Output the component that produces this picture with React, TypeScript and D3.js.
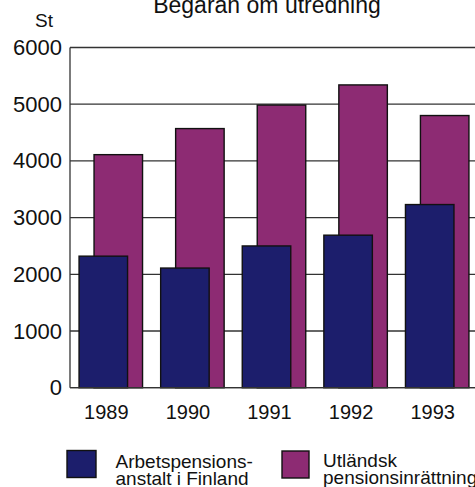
import React from "react";
import * as d3 from "d3";

const years = ["1989", "1990", "1991", "1992", "1993"];
const finland = [2320, 2110, 2500, 2690, 3230];
const foreign = [4110, 4570, 4985, 5340, 4800];
const yTicks = [0, 1000, 2000, 3000, 4000, 5000, 6000];
const title = "Begäran om utredning";
const unitLabel = "St";
const legendLabels = [
  ["Arbetspensions-", "anstalt i Finland"],
  ["Utländsk", "pensionsinrättning"],
];

const W = 475;
const H = 487;
const BLUE = "#1c1e6c";
const PURPLE = "#8d2b73";
const FONT = "'Liberation Sans', Arial, Helvetica, sans-serif";

export default function App() {
  const left = 70;
  const right = 478;
  const y = d3.scaleLinear().domain([0, 6000]).range([387.7, 47.5]);
  const x = d3
    .scaleBand<string>()
    .domain(years)
    .range([left, right])
    .paddingInner(0.222)
    .paddingOuter(0.111);
  const bw = x.bandwidth();
  const barW = bw * 0.764;
  const off = bw - barW;

  return (
    <svg
      width={W}
      height={H}
      style={{ position: "absolute", left: 0, top: 0, background: "#fff" }}
      fontFamily={FONT}
    >
      <text x={267} y={13} fontSize={23} textAnchor="middle" fill="#111">
        {title}
      </text>
      <text x={35} y={27} fontSize={19} fill="#111">
        {unitLabel}
      </text>
      {yTicks.map((t) => (
        <g key={t}>
          <line x1={left} x2={W} y1={y(t)} y2={y(t)} stroke="#333" strokeWidth={1.3} />
          <text x={62} y={y(t) + 7.5} fontSize={22} textAnchor="end" fill="#111">
            {t}
          </text>
        </g>
      ))}
      <line x1={left} x2={left} y1={y(6000)} y2={y(0)} stroke="#333" strokeWidth={1.3} />
      {years.map((yr, i) => (
        <rect
          key={"p" + yr}
          x={(x(yr) as number) + off}
          y={y(foreign[i])}
          width={barW}
          height={y(0) - y(foreign[i])}
          fill={PURPLE}
          stroke="#111"
          strokeWidth={1.4}
        />
      ))}
      {years.map((yr, i) => (
        <rect
          key={"b" + yr}
          x={x(yr) as number}
          y={y(finland[i])}
          width={barW}
          height={y(0) - y(finland[i])}
          fill={BLUE}
          stroke="#111"
          strokeWidth={1.4}
        />
      ))}
      <line x1={left} x2={W} y1={y(0)} y2={y(0)} stroke="#333" strokeWidth={1.3} />
      {years.map((yr) => (
        <text
          key={"l" + yr}
          x={(x(yr) as number) + barW / 2 + 3}
          y={419}
          fontSize={20}
          textAnchor="middle"
          fill="#111"
        >
          {yr}
        </text>
      ))}
      <rect x={67} y={450.5} width={29} height={27} fill={BLUE} stroke="#111" strokeWidth={1.4} />
      <rect x={282} y={451} width={27} height={27} fill={PURPLE} stroke="#111" strokeWidth={1.4} />
      {legendLabels[0].map((s, i) => (
        <text key={"a" + i} x={115.5} y={468.3 + i * 16.7} fontSize={19} fill="#111">
          {s}
        </text>
      ))}
      {legendLabels[1].map((s, i) => (
        <text key={"u" + i} x={323} y={466.7 + i * 17.3} fontSize={19} fill="#111">
          {s}
        </text>
      ))}
    </svg>
  );
}
